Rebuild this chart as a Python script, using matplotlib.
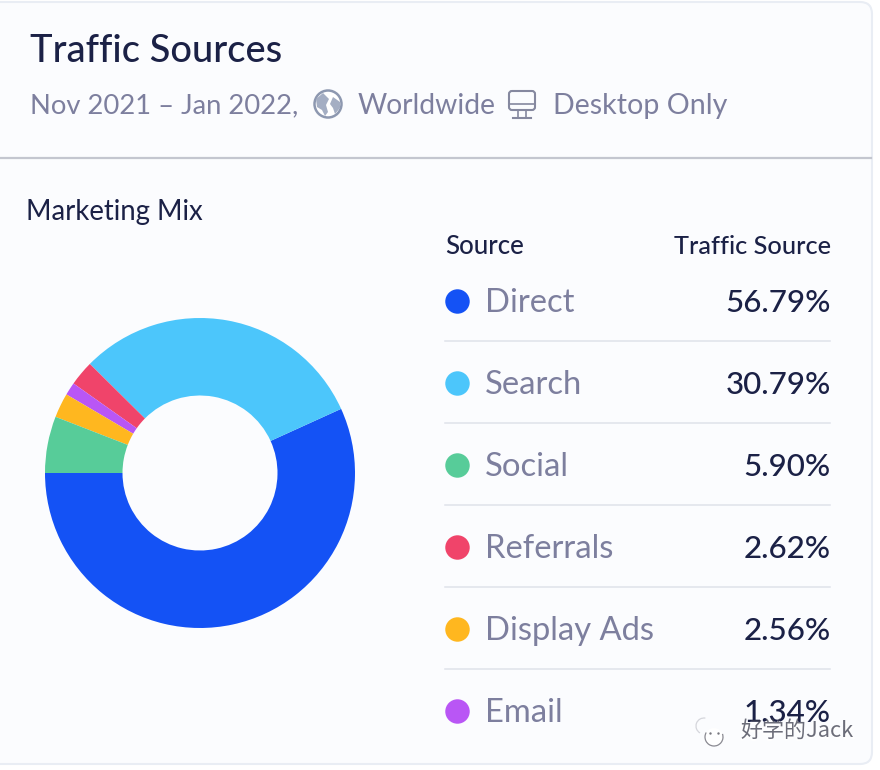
import matplotlib
matplotlib.use("Agg")
import matplotlib.pyplot as plt
from matplotlib.patches import Circle, FancyBboxPatch, Ellipse, Polygon, Arc

plt.rcParams['font.family'] = ['Lato', 'DejaVu Sans']

categories = ["Direct", "Search", "Social", "Referrals", "Display Ads", "Email"]
shares = [56.79, 30.79, 5.90, 2.62, 2.56, 1.34]
share_labels = ["56.79%", "30.79%", "5.90%", "2.62%", "2.56%", "1.34%"]
colors = ["#1452f5", "#4cc6fb", "#57cc99", "#f0446a", "#ffb71f", "#b956f5"]
ring_order = [0, 1, 3, 5, 4, 2]

W, H = 880, 770
fig = plt.figure(figsize=(W / 100, H / 100), dpi=100, facecolor="#ffffff")

bg = fig.add_axes([0, 0, 1, 1])
bg.set_xlim(0, W)
bg.set_ylim(H, 0)
bg.axis("off")

bg.add_patch(FancyBboxPatch((-20, 2), 892, 762, boxstyle="round,pad=0,rounding_size=12",
                            fc="#fbfcfe", ec="#e9edf4", lw=1.5))
bg.plot([0, 871], [158, 158], color="#c3c6cf", lw=1.6)

dark = "#1b2146"
muted = "#7d7f9e"
bg.text(30, 51, "Traffic Sources", fontsize=27.4, color=dark, va="center", ha="left", fontweight="medium")
bg.text(30, 106, "Nov 2021 – Jan 2022,", fontsize=19.7, color=muted, va="center", ha="left")
bg.text(358, 106, "Worldwide", fontsize=20.3, color=muted, va="center", ha="left")
bg.text(553, 106, "Desktop Only", fontsize=20.6, color=muted, va="center", ha="left")

# globe icon
bg.add_patch(Circle((328, 104), 13.5, fc="#ffffff", ec="#8d98b0", lw=1.8))
gl = "#a4aec3"
bg.add_patch(Polygon([(323, 93), (316, 99), (317, 107), (322, 110), (325, 116), (328, 112), (326, 105), (329, 99)],
                     fc=gl, ec="none"))
bg.add_patch(Polygon([(333, 97), (340, 102), (340, 108), (335, 114), (333, 108), (330, 104)], fc=gl, ec="none"))

# monitor icon
bg.add_patch(FancyBboxPatch((509, 91), 26, 19, boxstyle="round,pad=0,rounding_size=3",
                            fc="none", ec="#85889f", lw=1.5))
bg.plot([509, 535], [104, 104], color="#85889f", lw=1.2)
bg.plot([518, 518], [110, 117], color="#85889f", lw=1.2)
bg.plot([526, 526], [110, 117], color="#85889f", lw=1.2)
bg.plot([513, 531], [118, 118], color="#85889f", lw=1.5)

bg.text(26, 212, "Marketing Mix", fontsize=19.8, color=dark, va="center", ha="left")
bg.text(445, 246, "Source", fontsize=18.6, color=dark, va="center", ha="left", fontweight="medium")
bg.text(831, 246, "Traffic Source", fontsize=18.3, color=dark, va="center", ha="right", fontweight="medium")

row_y = [301, 383, 465, 547, 629, 711]
for i, (name, lab, c, y) in enumerate(zip(categories, share_labels, colors, row_y)):
    bg.scatter([457], [y], s=310, color=c, linewidths=0, zorder=3)
    bg.text(485, y + 2, name, fontsize=23.6, color=muted, va="center", ha="left")
    bg.text(831, y + 2, lab, fontsize=22.6, color=dark, va="center", ha="right", fontweight="medium")
    if i < len(row_y) - 1:
        bg.plot([445, 830], [y + 40, y + 40], color="#dfe2ea", lw=1.1)

# donut
cx, cy, R = 200, 473, 155
size = 2 * R + 4
pie_ax = fig.add_axes([(cx - size / 2) / W, 1 - (cy + size / 2) / H, size / W, size / H])
pie_ax.pie([shares[i] for i in ring_order], colors=[colors[i] for i in ring_order],
           startangle=180, counterclock=True, radius=1.0,
           wedgeprops=dict(width=0.5, linewidth=0))
pie_ax.set_xlim(-size / 2 / R, size / 2 / R)
pie_ax.set_ylim(-size / 2 / R, size / 2 / R)
pie_ax.set_aspect("equal")
pie_ax.axis("off")

# watermark
wm = fig.add_axes([0, 0, 1, 1])
wm.set_xlim(0, W)
wm.set_ylim(H, 0)
wm.axis("off")
wm.patch.set_alpha(0)
wm.text(740, 732, "好学的Jack", fontsize=15.8, color="#ffffff", va="center", ha="left",
        family=["Noto Sans CJK SC", "DejaVu Sans"], fontweight="bold", alpha=0.9)
wm.text(740, 732, "好学的Jack", fontsize=15.8, color="#3b3d4d", alpha=0.75, va="center", ha="left",
        family=["Noto Sans CJK SC", "DejaVu Sans"])
wm.add_patch(Circle((714, 737), 9, fc="#ffffff", ec="none"))
wm.add_patch(Arc((714, 737), 18, 18, theta1=-20, theta2=210, ec="#8a8a92", lw=0.9))
wm.add_patch(Arc((704, 726), 16, 16, theta1=120, theta2=280, ec="#d5d6dc", lw=0.9))
wm.scatter([710, 718], [733, 733], s=3, color="#77777f", linewidths=0)

fig.savefig("out.png", dpi=100, facecolor=fig.get_facecolor())
